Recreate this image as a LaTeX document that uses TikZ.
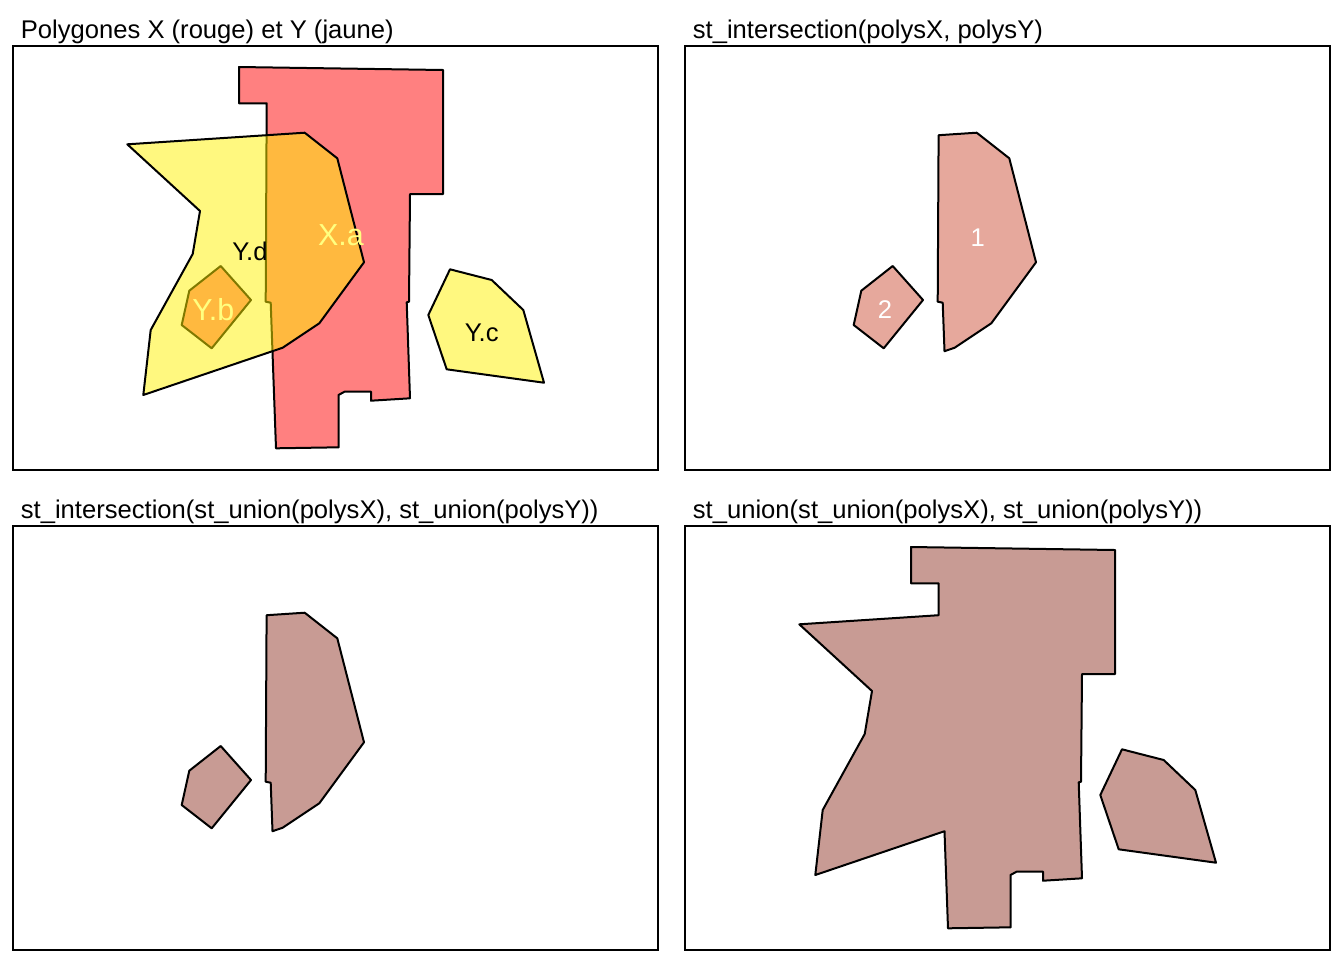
\documentclass[tikz,border=0pt]{standalone}
\usepackage{fontspec}
\setmainfont{Liberation Sans}
\usepackage{tikz}
\definecolor{xred}{HTML}{FF8080}
\definecolor{xlab}{HTML}{FFFF80}
\definecolor{interfill}{HTML}{E6A89C}
\definecolor{unionfill}{HTML}{C89B94}
\newcommand{\polyXa}{(239,67) -- (443,70) -- (443,194) -- (410,194) -- (409,301.7) -- (406.7,302.3) -- (410,398.3) -- (371,400.7) -- (371,391.7) -- (344.5,391.7) -- (338.5,395) -- (338.7,447.3) -- (276,448.3) -- (270.7,302.7) -- (265.7,301.7) -- (266.7,103.3) -- (239,103.3) -- cycle}
\newcommand{\polyYb}{(220.7,266) -- (251,300) -- (211.7,348.3) -- (181.7,325) -- (189.3,290.7) -- cycle}
\newcommand{\polyYc}{(450,269.3) -- (491.7,280) -- (523.3,310) -- (544,382.7) -- (446.7,369.3) -- (428.3,315) -- cycle}
\newcommand{\polyYd}{(127.3,144.3) -- (304.7,132.7) -- (337.3,158.3) -- (364,262.3) -- (319.3,323.3) -- (282.7,347.7) -- (143.3,395) -- (150.7,330) -- (192.7,254) -- (200,211) -- cycle}
\newcommand{\polyInter}{(266.6,135.2) -- (304.7,132.7) -- (337.3,158.3) -- (364,262.3) -- (319.3,323.3) -- (282.7,347.7) -- (272.5,351.2) -- (270.7,302.7) -- (265.7,301.7) -- cycle}
\newcommand{\polyUnion}{(239,67) -- (443,70) -- (443,194) -- (410,194) -- (409,301.7) -- (406.7,302.3) -- (410,398.3) -- (371,400.7) -- (371,391.7) -- (344.5,391.7) -- (338.5,395) -- (338.7,447.3) -- (276,448.3) -- (272.5,351.2) -- (143.3,395) -- (150.7,330) -- (192.7,254) -- (200,211) -- (127.3,144.3) -- (266.6,135.2) -- (266.7,103.3) -- (239,103.3) -- cycle}
\tikzset{
  panel/.style={draw=black,line width=1pt},
  poly/.style={draw=black,line width=1pt,line join=round},
  paneltitle/.style={anchor=base west,inner sep=0pt,font=\fontsize{12.8}{15}\selectfont},
  polylab/.style={inner sep=0pt,font=\fontsize{12.8}{15}\selectfont},
  biglab/.style={inner sep=0pt,text=xlab,font=\fontsize{15.2}{18}\selectfont}
}

\begin{document}
\begin{tikzpicture}[x=0.5pt,y=-0.5pt]
\useasboundingbox[fill=white] (0,0) rectangle (1344,960);

% X et Y
\fill[xred] \polyXa;
\draw[poly] \polyXa;
\fill[xred] \polyYb;
\draw[poly] \polyYb;
\fill[yellow,opacity=0.5] \polyYd;
\draw[poly] \polyYd;
\fill[yellow,opacity=0.5] \polyYc;
\draw[poly] \polyYc;
\node[biglab] (labXa) at (341,235) {X.a};
\node[polylab] (labYd) at (250,251.7) {Y.d};
\node[biglab] (labYb) at (213.3,310) {Y.b};
\node[polylab] (labYc) at (481.7,332.7) {Y.c};
\draw[panel] (13,46) rectangle (658,470);
\node[paneltitle] (titleXY) at (20.5,38.5) {Polygones X (rouge) et Y (jaune)};

% intersection
\begin{scope}[shift={(672,0)}]
\draw[poly,fill=interfill] \polyInter;
\draw[poly,fill=interfill] \polyYb;
\node[polylab,text=white] (labOne) at (305.7,237.3) {1};
\node[polylab,text=white] (labTwo) at (213,309.3) {2};
\draw[panel] (13,46) rectangle (658,470);
\node[paneltitle] (titleInter) at (20.5,38.5) {st\_intersection(polysX, polysY)};
\end{scope}

% intersection des unions
\begin{scope}[shift={(0,480)}]
\draw[poly,fill=unionfill] \polyInter;
\draw[poly,fill=unionfill] \polyYb;
\draw[panel] (13,46) rectangle (658,470);
\node[paneltitle] (titleInterUnion) at (20.5,38.5) {st\_intersection(st\_union(polysX), st\_union(polysY))};
\end{scope}

% union des unions
\begin{scope}[shift={(672,480)}]
\draw[poly,fill=unionfill] \polyUnion;
\draw[poly,fill=unionfill] \polyYc;
\draw[panel] (13,46) rectangle (658,470);
\node[paneltitle] (titleUnion) at (20.5,38.5) {st\_union(st\_union(polysX), st\_union(polysY))};
\end{scope}
\end{tikzpicture}
\end{document}
